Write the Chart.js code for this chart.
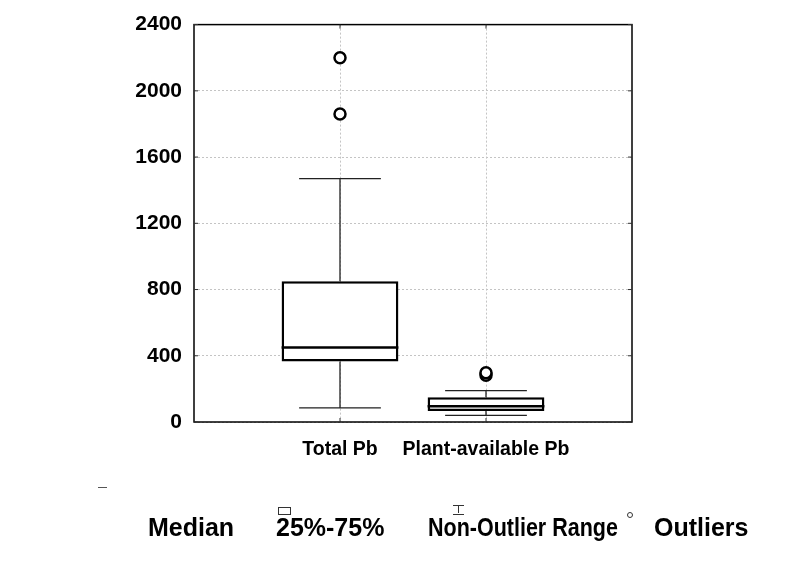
<!DOCTYPE html>
<html>
<head>
<meta charset="utf-8">
<script src="https://cdn.jsdelivr.net/npm/chart.js@4.4.1/dist/chart.umd.min.js"></script>
<style>
  body { margin: 0; background: #fff; }
  #wrap { position: relative; width: 793px; height: 569px; font-family: "Liberation Sans", Arial, sans-serif; font-weight: bold; }
  canvas { position: absolute; left: 0; top: 0; }
  .lg { position: absolute; font-size: 25px; color: #000; white-space: nowrap; line-height: 1; transform-origin: left top; }
  .sym { position: absolute; }
</style>
</head>
<body>
<div id="wrap">
  <canvas id="myChart" width="793" height="569"></canvas>
  <div class="sym" style="left:98px;top:487px;width:9px;height:0;border-top:1.5px solid #555;"></div>
  <span class="lg" style="left:148px;top:515px;">Median</span>
  <div class="sym" style="left:278px;top:507px;width:11px;height:6px;border:1px solid #333;"></div>
  <span class="lg" style="left:276px;top:515px;">25%-75%</span>
  <div class="sym" style="left:453px;top:505px;width:11px;height:8px;border-top:1px solid #333;border-bottom:1px solid #333;"></div>
  <div class="sym" style="left:458px;top:505px;width:0;height:8px;border-left:1px solid #333;"></div>
  <span class="lg" style="left:428px;top:515px;transform:scaleX(0.86);">Non-Outlier Range</span>
  <div class="sym" style="left:627px;top:512px;width:4px;height:4px;border:1px solid #333;border-radius:50%;"></div>
  <span class="lg" style="left:654px;top:515px;">Outliers</span>
</div>
<script>
let categories = ["Total Pb", "Plant-available Pb"];
let positions = [1, 2];

let whiskerLow = [85, 40];
let q1 = [365, 66];
let medians = [450, 95];
let q3 = [850, 150];
let whiskerHigh = [1470, 190];

let outliersTotal = [1860, 2200];
let outliersPlant = [282, 298];

let yTicks = [0, 400, 800, 1200, 1600, 2000, 2400];

let fontMain = '"Liberation Sans", Arial, sans-serif';

let boxData = positions.map((p, i) => ({ x: p, y: [q1[i], q3[i]] }));
let outlierData = outliersTotal.map(v => ({ x: positions[0], y: v }))
    .concat(outliersPlant.map(v => ({ x: positions[1], y: v })));

// whiskers, caps, medians, frame
let boxExtras = {
    id: 'boxExtras',
    beforeDatasetsDraw(chart) {
        let ctx = chart.ctx;
        let xs = chart.scales.x, ys = chart.scales.y;
        let step = xs.getPixelForValue(2) - xs.getPixelForValue(1);
        let capHalf = step * 0.28;
        ctx.save();
        ctx.strokeStyle = '#222';
        ctx.lineWidth = 1.3;
        positions.forEach((p, i) => {
            let px = xs.getPixelForValue(p);
            ctx.beginPath();
            ctx.moveTo(px, ys.getPixelForValue(q3[i]));
            ctx.lineTo(px, ys.getPixelForValue(whiskerHigh[i]));
            ctx.moveTo(px, ys.getPixelForValue(q1[i]));
            ctx.lineTo(px, ys.getPixelForValue(whiskerLow[i]));
            ctx.moveTo(px - capHalf, ys.getPixelForValue(whiskerHigh[i]));
            ctx.lineTo(px + capHalf, ys.getPixelForValue(whiskerHigh[i]));
            ctx.moveTo(px - capHalf, ys.getPixelForValue(whiskerLow[i]));
            ctx.lineTo(px + capHalf, ys.getPixelForValue(whiskerLow[i]));
            ctx.stroke();
        });
        ctx.restore();
    },
    afterDatasetsDraw(chart) {
        let ctx = chart.ctx;
        let xs = chart.scales.x, ys = chart.scales.y;
        let step = xs.getPixelForValue(2) - xs.getPixelForValue(1);
        let half = step * 0.4;
        ctx.save();
        ctx.strokeStyle = '#000';
        ctx.lineWidth = 2.5;
        positions.forEach((p, i) => {
            let px = xs.getPixelForValue(p);
            let py = ys.getPixelForValue(medians[i]);
            ctx.beginPath();
            ctx.moveTo(px - half, py);
            ctx.lineTo(px + half, py);
            ctx.stroke();
        });
        ctx.restore();
    },
    afterDraw(chart) {
        let ctx = chart.ctx;
        let a = chart.chartArea;
        let ys = chart.scales.y, xs = chart.scales.x;
        ctx.save();
        ctx.strokeStyle = '#000';
        ctx.lineWidth = 1.5;
        ctx.strokeRect(a.left, a.top, a.right - a.left, a.bottom - a.top);
        // small inward tick marks
        ctx.lineWidth = 1;
        ctx.strokeStyle = '#333';
        ctx.beginPath();
        yTicks.forEach(v => {
            let py = ys.getPixelForValue(v);
            ctx.moveTo(a.left, py); ctx.lineTo(a.left + 4, py);
            ctx.moveTo(a.right, py); ctx.lineTo(a.right - 4, py);
        });
        positions.forEach(p => {
            let px = xs.getPixelForValue(p);
            ctx.moveTo(px, a.bottom); ctx.lineTo(px, a.bottom - 4);
            ctx.moveTo(px, a.top); ctx.lineTo(px, a.top + 4);
        });
        ctx.stroke();
        ctx.restore();
    }
};

let myBox = document.getElementById("myChart").getContext('2d');

let chart1 = new Chart(myBox, {
    type: 'bar',
    data: {
        datasets: [{
                data: boxData,
                backgroundColor: '#ffffff',
                borderColor: '#000000',
                borderWidth: 2.5,
                borderSkipped: false,
                barPercentage: 0.8,
                categoryPercentage: 1,
                order: 2
            },
            {
                type: 'scatter',
                data: outlierData,
                pointStyle: 'circle',
                pointRadius: 5.5,
                pointBorderWidth: 2.5,
                pointBackgroundColor: '#ffffff',
                pointBorderColor: '#000000',
                order: 1
            }
        ]
    },
    options: {
        responsive: false,
        animation: false,
        layout: {
            padding: { left: 0, top: 24, right: 161, bottom: 107 }
        },
        plugins: {
            legend: { display: false },
            tooltip: { enabled: false }
        },
        scales: {
            x: {
                type: 'linear',
                min: 0,
                max: 3,
                offset: false,
                afterBuildTicks: s => { s.ticks = positions.map(p => ({ value: p })); },
                afterFit: s => { s.height = 40; },
                grid: {
                    color: '#c4c4c4',
                    offset: false,
                    drawTicks: false
                },
                border: { display: false, dash: [2, 2] },
                ticks: {
                    color: '#000',
                    padding: 16,
                    maxRotation: 0,
                    autoSkip: false,
                    font: { family: fontMain, size: 19.5, weight: 'bold' },
                    callback: v => categories[positions.indexOf(v)]
                }
            },
            y: {
                min: 0,
                max: 2400,
                afterBuildTicks: s => { s.ticks = yTicks.map(v => ({ value: v })); },
                afterFit: s => { s.width = 194; },
                grid: {
                    color: '#c4c4c4',
                    drawTicks: false
                },
                border: { display: false, dash: [2, 2] },
                ticks: {
                    color: '#000',
                    padding: 12,
                    font: { family: fontMain, size: 21, weight: 'bold' },
                    callback: v => String(v)
                }
            }
        }
    },
    plugins: [boxExtras]
});
</script>
</body>
</html>
